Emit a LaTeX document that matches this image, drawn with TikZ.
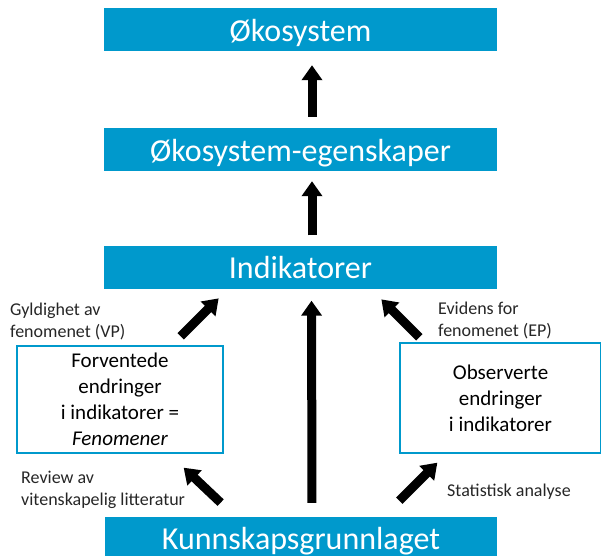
\documentclass[tikz,border=0pt]{standalone}
\usepackage{fontspec}
\setmainfont{Carlito}
\usetikzlibrary{arrows.meta,calc}
\definecolor{boxblue}{RGB}{0,153,204}
\begin{document}
\begin{tikzpicture}[x=1pt,y=-1pt,
  bluebox/.style={fill=boxblue, text=white, minimum width=393pt, minimum height=43pt, inner sep=0pt, text height=27pt, text depth=4pt, font=\fontsize{32}{38}\selectfont},
  whitebox/.style={draw=boxblue, line width=1.3pt, fill=white, align=center, inner sep=0pt, font=\fontsize{21}{26}\selectfont},
  lbl/.style={align=left, anchor=west, inner sep=0pt, text=black!85, font=\fontsize{18}{22}\selectfont},
  bigarrow/.style={line width=9pt, -{Triangle[length=15pt,width=20pt]}}]
\useasboundingbox (0,0) rectangle (601,555);
\clip (0,0) rectangle (601,555);
\node[bluebox] (oko) at (300.5,29.5) {Økosystem};
\node[bluebox] (egen) at (300.5,149.5) {Økosystem-egenskaper};
\node[bluebox] (ind) at (300.5,267) {Indikatorer};
\node[bluebox, minimum width=392pt, minimum height=42pt] (kunn) at (301,538) {Kunnskapsgrunnlaget};
\node[whitebox, minimum width=206pt, minimum height=107pt] (fen) at (120,399.5)
  {Forventede\\endringer\\i indikatorer =\\\textit{Fenomener}};
\node[whitebox, minimum width=201pt, minimum height=110pt] (obs) at (500.5,398)
  {Observerte\\endringer\\i indikatorer};
\node[lbl] (vp) at (10,321) {Gyldighet av\\fenomenet (VP)};
\node[lbl] (rev) at (21,490) {Review av\\vitenskapelig litteratur};
\node[lbl] (ep) at (438,320) {Evidens for\\fenomenet (EP)};
\node[lbl] (stat) at (447,492) {Statistisk analyse};
\draw[bigarrow, shorten <=11pt, shorten >=14pt] ([xshift=11.5pt]egen.north) -- ([xshift=11.5pt]oko.south);
\draw[bigarrow, shorten <=10pt, shorten >=10pt] ([xshift=11.5pt]ind.north) -- ([xshift=11.5pt]egen.south);
\draw[bigarrow, shorten <=14pt, shorten >=12pt] ([xshift=11pt]kunn.north) -- ([xshift=11pt]ind.south);
\draw[bigarrow] ($(fen.north east)+(-43,-9)$) -- ($(fen.north east)+(-5,-47)$);
\draw[bigarrow] ($(fen.south east)+(-3,49)$) -- ($(fen.south east)+(-40,14)$);
\draw[bigarrow] ($(obs.north west)+(20,-5)$) -- ($(obs.north west)+(-18,-43)$);
\draw[bigarrow] ($(obs.south west)+(0,47)$) -- ($(obs.south west)+(38,9)$);
\end{tikzpicture}
\end{document}
